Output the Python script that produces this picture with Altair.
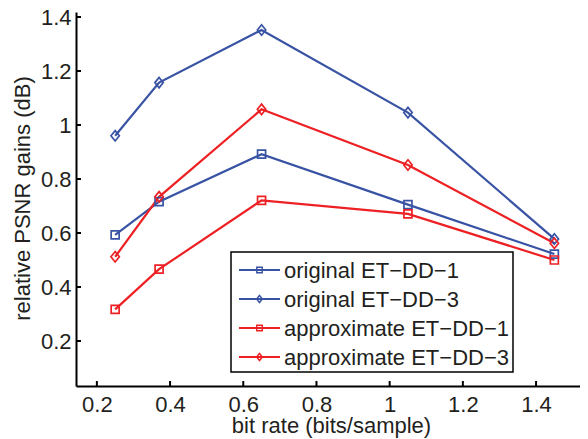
import altair as alt
import pandas as pd

# ---- data ----
bit_rate = [0.25, 0.37, 0.65, 1.05, 1.45]
orig_dd1 = [0.593, 0.716, 0.892, 0.705, 0.522]
orig_dd3 = [0.960, 1.157, 1.352, 1.046, 0.578]
approx_dd1 = [0.317, 0.466, 0.721, 0.671, 0.500]
approx_dd3 = [0.512, 0.734, 1.058, 0.852, 0.562]
series_names = ["original ET\u2212DD\u22121", "original ET\u2212DD\u22123",
                "approximate ET\u2212DD\u22121", "approximate ET\u2212DD\u22123"]
x_ticks = [0.2, 0.4, 0.6, 0.8, 1.0, 1.2, 1.4]
y_ticks = [0.2, 0.4, 0.6, 0.8, 1.0, 1.2, 1.4]

BLUE = "#3953a4"
RED = "#ed2024"
TXT = "#231f20"
FONT = "Liberation Sans"
FS = 22
SQUARE = "M-1,-1H1V1H-1Z"
DIAMOND = "M0,-1.3L1.05,0L0,1.3L-1.05,0Z"

TOP = 4
W, H = 504, 378 - TOP
XDOM = [0.143, 0.143 + W / 366.0]
YDOM = [1.4 - (386 - 17) / 270.0, 1.4 + (17 - 8 - TOP) / 270.0]

rows = []
for name, vals in zip(series_names, [orig_dd1, orig_dd3, approx_dd1, approx_dd3]):
    for i, (x, y) in enumerate(zip(bit_rate, vals)):
        rows.append({"series": name, "x": x, "y": y, "i": i})
df = pd.DataFrame(rows)

color_scale = alt.Scale(domain=series_names, range=[BLUE, BLUE, RED, RED])
shape_scale = alt.Scale(domain=series_names, range=[SQUARE, DIAMOND, SQUARE, DIAMOND])

xs = alt.Scale(domain=XDOM, nice=False, zero=False)
ys = alt.Scale(domain=YDOM, nice=False, zero=False)

x_axis = alt.Axis(values=x_ticks, title="bit rate (bits/sample)", format="~g",
                  grid=False, ticks=False, tickSize=0, labelPadding=25,
                  labelBaseline="alphabetic", titleY=46, titleX=W / 2 + 3,
                  titleBaseline="alphabetic")
y_axis = alt.Axis(values=y_ticks, title="relative PSNR gains (dB)", format="~g",
                  grid=False, ticks=False, tickSize=0, labelPadding=5,
                  titleX=-47, titleY=(386 - 8 - TOP) / 2 - 1, titleBaseline="alphabetic")

lines = alt.Chart(df).mark_line(strokeWidth=2.2).encode(
    x=alt.X("x:Q", scale=xs, axis=x_axis),
    y=alt.Y("y:Q", scale=ys, axis=y_axis),
    color=alt.Color("series:N", scale=color_scale, legend=None),
    detail="series:N",
    order="i:Q",
)
points = alt.Chart(df).mark_point(filled=False, strokeWidth=1.7, size=64, opacity=1).encode(
    x=alt.X("x:Q", scale=xs),
    y=alt.Y("y:Q", scale=ys),
    color=alt.Color("series:N", scale=color_scale, legend=None),
    shape=alt.Shape("series:N", scale=shape_scale, legend=None),
)

# inward ticks
ytk = alt.Chart(pd.DataFrame({"v": y_ticks})).mark_rule(color="black", strokeWidth=2).encode(
    y=alt.Y("v:Q", scale=ys), x=alt.value(0), x2=alt.value(5))
xtk = alt.Chart(pd.DataFrame({"v": x_ticks})).mark_rule(color="black", strokeWidth=2).encode(
    x=alt.X("v:Q", scale=xs), y=alt.value(H), y2=alt.value(H - 5))

# legend (drawn manually to get line + marker symbols)
LX0, LX1, LY0, LY1 = 155, 437, 244 - TOP, 364 - TOP
leg = pd.DataFrame({"series": series_names,
                    "ly": [LY0 + 18 + k * 29 for k in range(len(series_names))]})
box = alt.Chart(pd.DataFrame({"a": [0]})).mark_rect(
    fill="white", stroke="black", strokeWidth=1.5).encode(
    x=alt.value(LX0), x2=alt.value(LX1), y=alt.value(LY0), y2=alt.value(LY1))
leg_lines = alt.Chart(leg).mark_rule(strokeWidth=2.2).encode(
    x=alt.value(163), x2=alt.value(204),
    y=alt.Y("ly:Q", scale=None),
    color=alt.Color("series:N", scale=color_scale, legend=None))
leg_pts = alt.Chart(leg).mark_point(filled=False, strokeWidth=1.4, size=30, opacity=1).encode(
    x=alt.value(183.5),
    y=alt.Y("ly:Q", scale=None),
    color=alt.Color("series:N", scale=color_scale, legend=None),
    shape=alt.Shape("series:N", scale=shape_scale, legend=None))
leg_txt = alt.Chart(leg).mark_text(align="left", baseline="middle", font=FONT,
                                   fontSize=FS, color=TXT, dy=1).encode(
    x=alt.value(208), y=alt.Y("ly:Q", scale=None), text="series:N")

chart = alt.layer(lines, points, ytk, xtk, box, leg_lines, leg_pts, leg_txt).properties(
    width=W, height=H,
    autosize=alt.AutoSizeParams(type="none"),
    padding={"left": 68, "top": TOP, "right": 0, "bottom": 52},
).configure_view(stroke=None).configure_axis(
    domainColor="black", domainWidth=2,
    labelFont=FONT, labelFontSize=FS, labelColor=TXT,
    titleFont=FONT, titleFontSize=FS, titleColor=TXT, titleFontWeight="normal",
)

chart.save("out.html", embed_options={"renderer": "svg", "actions": False})
